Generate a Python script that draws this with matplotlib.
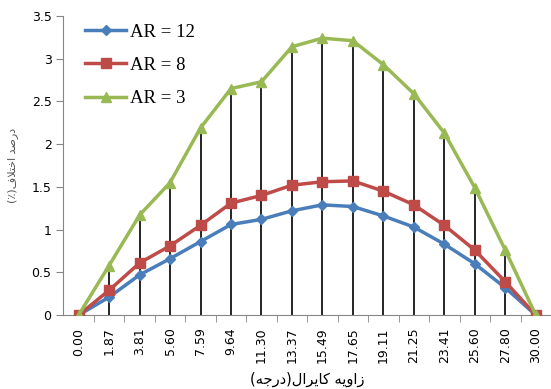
import matplotlib.pyplot as plt
import numpy as np

# chiral angle categories (degrees)
angles = ["0.00", "1.87", "3.81", "5.60", "7.59", "9.64", "11.30", "13.37", "15.49",
          "17.65", "19.11", "21.25", "23.41", "25.60", "27.80", "30.00"]

ar12 = [0, 0.21, 0.47, 0.66, 0.86, 1.06, 1.12, 1.22, 1.29, 1.27, 1.16, 1.03, 0.83, 0.60, 0.32, 0]
ar8 = [0, 0.29, 0.61, 0.81, 1.05, 1.31, 1.40, 1.52, 1.56, 1.57, 1.45, 1.29, 1.05, 0.76, 0.39, 0]
ar3 = [0, 0.58, 1.17, 1.55, 2.19, 2.65, 2.73, 3.14, 3.24, 3.21, 2.93, 2.59, 2.13, 1.49, 0.76, 0]

# --- minimal Persian shaping (matplotlib has no complex text layout) ---
# letter: (isolated, final, initial, medial) ; 2-tuple = right-joining only
FORMS = {
    'ا': ('\uFE8D', '\uFE8E'), 'د': ('\uFEA9', '\uFEAA'), 'ر': ('\uFEAD', '\uFEAE'),
    'ز': ('\uFEAF', '\uFEB0'), 'و': ('\uFEED', '\uFEEE'),
    'ی': ('\uFBFC', '\uFBFD', '\uFBFE', '\uFBFF'), 'ه': ('\uFEE9', '\uFEEA', '\uFEEB', '\uFEEC'),
    'ک': ('\uFB8E', '\uFB8F', '\uFB90', '\uFB91'), 'ل': ('\uFEDD', '\uFEDE', '\uFEDF', '\uFEE0'),
    'ج': ('\uFE9D', '\uFE9E', '\uFE9F', '\uFEA0'), 'ص': ('\uFEB9', '\uFEBA', '\uFEBB', '\uFEBC'),
    'خ': ('\uFEA5', '\uFEA6', '\uFEA7', '\uFEA8'), 'ت': ('\uFE95', '\uFE96', '\uFE97', '\uFE98'),
    'ف': ('\uFED1', '\uFED2', '\uFED3', '\uFED4'),
}
MIRROR = {'(': ')', ')': '('}


def shape(text):
    out = []
    i = 0
    while i < len(text):
        c = text[i]
        if c not in FORMS:
            out.append(MIRROR.get(c, c))
            i += 1
            continue
        prev = text[i - 1] if i > 0 else ''
        joins_prev = prev in FORMS and len(FORMS[prev]) == 4
        if c == 'ل' and i + 1 < len(text) and text[i + 1] == 'ا':
            out.append('\uFEFC' if joins_prev else '\uFEFB')
            i += 2
            continue
        nxt = text[i + 1] if i + 1 < len(text) else ''
        joins_next = len(FORMS[c]) == 4 and nxt in FORMS
        f = FORMS[c]
        if joins_prev and joins_next:
            g = f[3]
        elif joins_prev:
            g = f[1]
        elif joins_next:
            g = f[2]
        else:
            g = f[0]
        out.append(g)
        i += 1
    return ''.join(reversed(out))


xlabel = shape('زاویه کایرال(درجه)')
ylabel = shape('درصد اختلاف(٪)')

plt.rcParams['font.family'] = ['DejaVu Sans']

fig = plt.figure(figsize=(5.51, 3.89), dpi=100)
ax = fig.add_axes([0.115, 0.19, 0.885, 0.769])

x = np.arange(len(angles))

# drop lines from the highest series down to the axis
ax.vlines(x, 0, ar3, color='black', lw=1.2, zorder=1)
ax.plot(x, ar12, color='#4A7EBB', lw=2.5, marker='D', ms=5, label='AR = 12', zorder=3)
ax.plot(x, ar8, color='#BE4B48', lw=2.5, marker='s', ms=7, label='AR = 8', zorder=3)
ax.plot(x, ar3, color='#98B954', lw=2.5, marker='^', ms=7, label='AR = 3', zorder=3)

ax.set_xlim(-0.5, len(angles) - 0.5)
ax.set_ylim(0, 3.5)
ax.set_yticks(np.arange(0, 3.51, 0.5))
ax.set_yticklabels(['0', '0.5', '1', '1.5', '2', '2.5', '3', '3.5'], fontsize=9)
ax.set_xticks(x)
ax.set_xticklabels(angles, rotation=90, fontsize=9)
ax.set_xticks(np.arange(0.5, len(angles) - 0.5, 1), minor=True)
ax.tick_params(axis='x', which='major', length=0, pad=9)
ax.tick_params(axis='x', which='minor', length=5, color='#868686')
ax.tick_params(axis='y', length=5, color='#868686')

for s in ['top', 'right']:
    ax.spines[s].set_visible(False)
for s in ['left', 'bottom']:
    ax.spines[s].set_color('#868686')

ax.set_xlabel(xlabel, fontsize=10.5, labelpad=6)
ax.set_ylabel(ylabel, fontsize=8, color='#555555', labelpad=10)

ax.legend(loc='upper left', bbox_to_anchor=(0.01, 1.03), frameon=False,
          prop={'family': 'Liberation Serif', 'size': 13.5}, handlelength=2.2,
          handletextpad=0.2, labelspacing=0.85)

fig.savefig('out.png', dpi=100)
